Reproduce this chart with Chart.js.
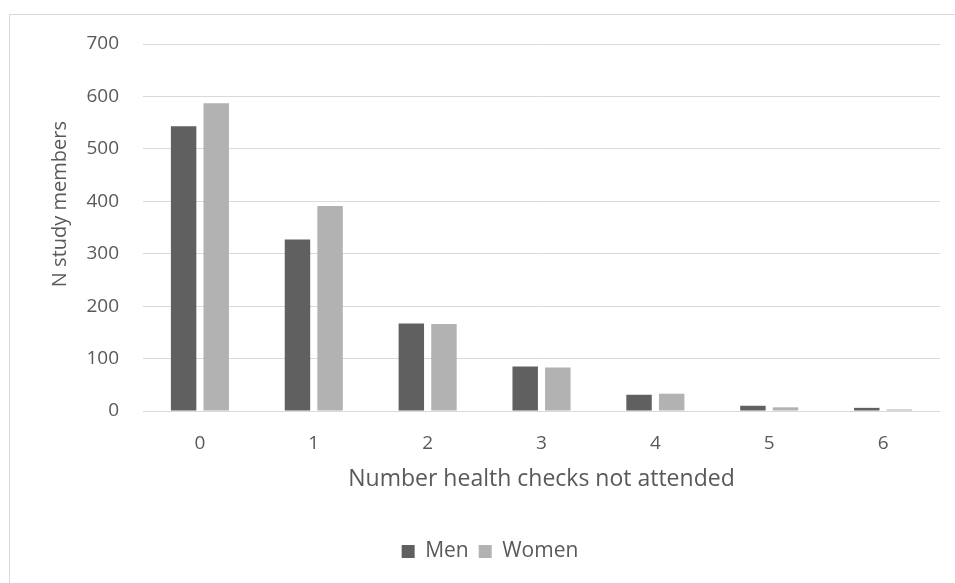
<!DOCTYPE html>
<html>
<head>
<meta charset="utf-8">
<script src="https://cdn.jsdelivr.net/npm/chart.js@4/dist/chart.umd.min.js"></script>
<style>
  html, body { margin: 0; padding: 0; background: #ffffff; overflow: hidden; }
  #wrap { position: relative; width: 955px; height: 583px; }
  #frame { position: absolute; left: 9px; top: 14px; width: 980px; height: 600px;
           border: 1px solid #d9d9d9; box-sizing: border-box; pointer-events: none; }
  canvas { position: absolute; left: 0; top: 0; }
</style>
</head>
<body>
<div id="wrap">
  <div id="frame"></div>
  <canvas id="chart" width="955" height="583"></canvas>
</div>
<script>
// Missed health checks by sex
const categories = ['0', '1', '2', '3', '4', '5', '6'];
const menValues = [543, 327, 167, 85, 31, 10, 6];
const womenValues = [587, 391, 166, 83, 33, 7, 3];
const yTicks = [0, 100, 200, 300, 400, 500, 600, 700];

const textColor = '#595959';
const fontFamily = '"Open Sans", "Liberation Sans", sans-serif';

// y-axis title sits a little above the middle of the axis
const yTitle = ' '.repeat(9) + 'N study members';

// nudge the legend to the right of the canvas centre
const legendShift = {
  id: 'legendShift',
  afterLayout(chart) {
    const lg = chart.legend;
    if (lg) { lg.left += 20; lg.right += 20; }
  }
};

new Chart(document.getElementById('chart'), {
  type: 'bar',
  data: {
    labels: categories,
    datasets: [
      { label: 'Men', data: menValues, backgroundColor: '#606060',
        categoryPercentage: 0.573, barPercentage: 0.78 },
      { label: 'Women', data: womenValues, backgroundColor: '#b2b2b2',
        categoryPercentage: 0.573, barPercentage: 0.78 }
    ]
  },
  plugins: [legendShift],
  options: {
    responsive: false,
    animation: false,
    layout: { padding: { left: 0, right: 15, top: 44, bottom: 11 } },
    plugins: {
      tooltip: { enabled: false },
      legend: {
        position: 'bottom',
        labels: {
          boxWidth: 13, boxHeight: 13, padding: 10,
          color: textColor,
          font: { family: fontFamily, size: 21 }
        }
      }
    },
    scales: {
      x: {
        grid: { display: false, drawTicks: false },
        border: { display: false },
        ticks: { color: textColor, padding: 21, font: { family: fontFamily, size: 19 } },
        title: {
          display: true, text: 'Number health checks not attended',
          color: textColor, font: { family: fontFamily, size: 23 },
          padding: { top: 0, bottom: 38 }
        },
        afterFit: (scale) => { scale.height = 120; }
      },
      y: {
        min: 0, max: 700,
        afterBuildTicks: (scale) => { scale.ticks = yTicks.map(v => ({ value: v })); },
        grid: { color: '#d9d9d9', lineWidth: 1, drawTicks: false },
        border: { display: false },
        ticks: { color: textColor, padding: 24, font: { family: fontFamily, size: 19 } },
        title: {
          display: true, text: yTitle,
          color: textColor, font: { family: fontFamily, size: 20 },
          padding: { top: 48, bottom: 0 }
        },
        afterFit: (scale) => { scale.width = 143; }
      }
    }
  }
});
</script>
</body>
</html>
